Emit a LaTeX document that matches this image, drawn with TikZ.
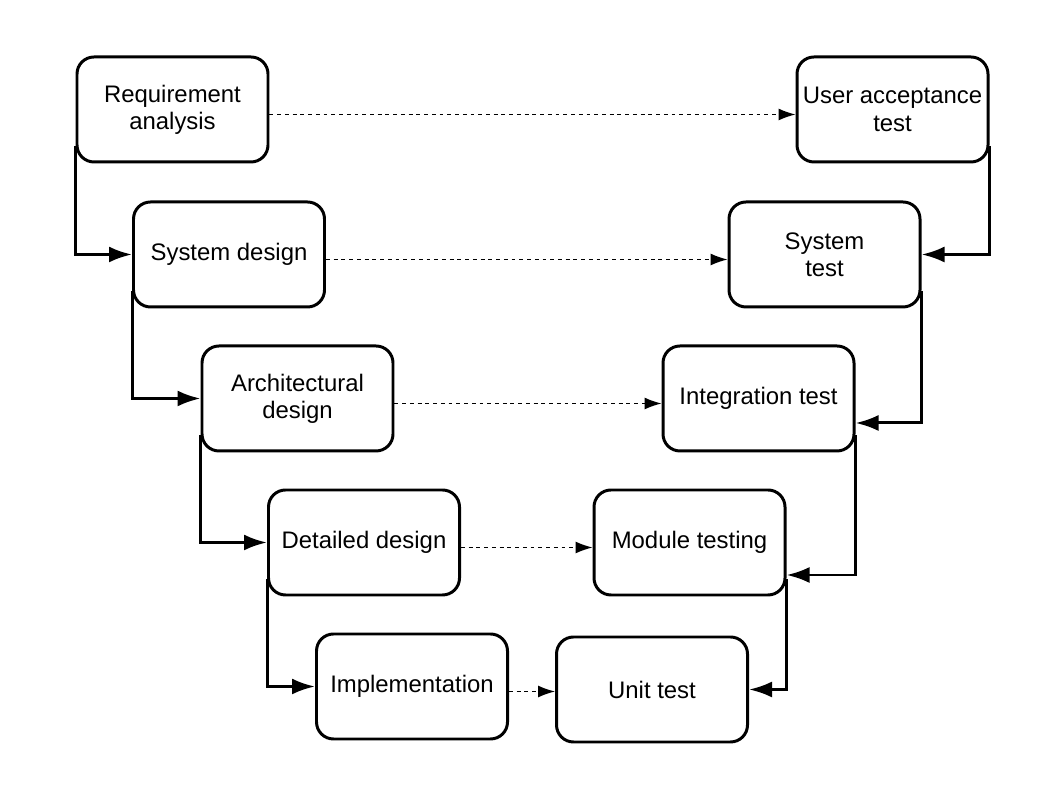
\documentclass[tikz,border=0pt]{standalone}
\usepackage{fontspec}
\setmainfont{Liberation Sans}
\usetikzlibrary{arrows.meta}

\tikzset{
  phase/.style={draw,line width=1.7pt,rounded corners=0.34cm,minimum width=3.82cm,
    minimum height=2.1cm,align=center,inner sep=1pt,font=\fontsize{13.6}{15.5}\selectfont},
  flow/.style={line width=1.7pt,-{Latex[length=0.46cm,width=0.32cm]}},
  verify/.style={line width=0.7pt,dash pattern=on 2.2pt off 2.2pt,-{Latex[length=0.34cm,width=0.24cm]}}
}

\begin{document}
\begin{tikzpicture}
    \useasboundingbox (0,0) rectangle (21.16,15.88);

    %/ Left branch
    \node[phase] (req)  at (3.45,13.69) {Requirement\\analysis};
    \node[phase] (sysd) at (4.58,10.79) {System design};
    \node[phase] (arch) at (5.95,7.91)  {Architectural\\design};
    \node[phase] (det)  at (7.28,5.03)  {Detailed design};
    \node[phase] (impl) at (8.24,2.15)  {Implementation};

    %/ Right branch
    \node[phase] (uat)  at (17.85,13.69) {User acceptance\\test};
    \node[phase] (syst) at (16.49,10.79) {System\\test};
    \node[phase] (integ) at (15.17,7.91) {Integration test};
    \node[phase] (mod)  at (13.79,5.03)  {Module testing};
    \node[phase] (unit) at (13.04,2.09)  {Unit test};

    %/ Down the left side
    \foreach \a/\b in {req/sysd,sysd/arch,arch/det,det/impl}
        \draw[flow] ([yshift=0.35cm]\a.south west) |- (\b.west);

    %/ Up the right side
    \draw[flow] ([yshift=0.35cm]uat.south east) |- (syst.east);
    \draw[flow] ([yshift=0.35cm]syst.south east) |- ([yshift=-0.49cm]integ.east);
    \draw[flow] ([yshift=0.35cm]integ.south east) |- ([yshift=-0.65cm]mod.east);
    \draw[flow] ([yshift=0.35cm]mod.south east) |- (unit.east);

    %/ Dotted links
    \foreach \a/\b in {req/uat,sysd/syst,arch/integ,det/mod,impl/unit}
        \draw[verify] ([yshift=-0.1cm]\a.east) -- ([yshift=-0.1cm]\a.east -| \b.west);
\end{tikzpicture}
\end{document}
